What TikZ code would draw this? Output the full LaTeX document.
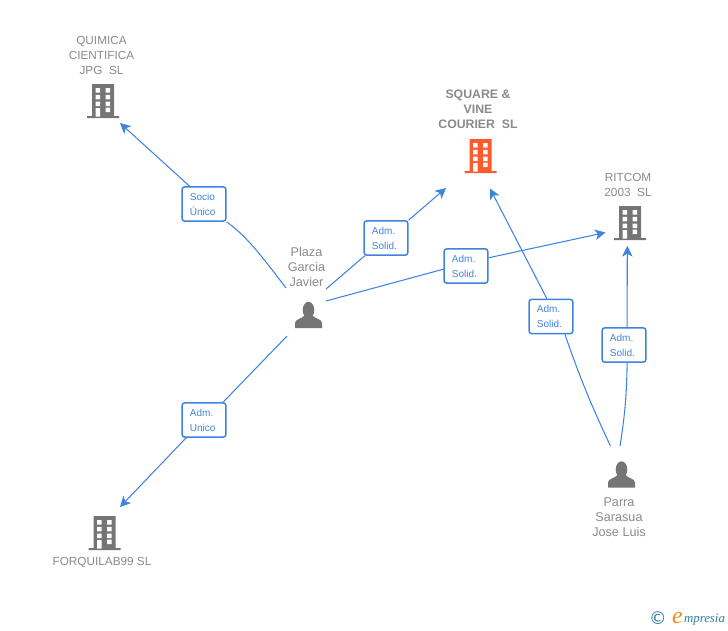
\documentclass[tikz,border=0pt]{standalone}
\usepackage{fontspec}
\setmainfont{Liberation Sans}
\newfontfamily\logofont{Liberation Serif}
\newfontfamily\logosym{DejaVu Sans}
\usetikzlibrary{arrows.meta}
\definecolor{linkblue}{HTML}{3F83E0}
\definecolor{labelgrey}{HTML}{8A8A8A}
\definecolor{icongrey}{HTML}{757575}
\definecolor{iconred}{HTML}{FF5A2B}
\definecolor{logoteal}{HTML}{2F7F9A}
\definecolor{logoorange}{HTML}{F58A1F}
\tikzset{
  link/.style={linkblue,line width=.6pt},
  arrowlink/.style={link,-{Stealth[length=6pt,width=6pt,inset=1.6pt]}},
  rolebox/.style={draw=linkblue,line width=.85pt,rounded corners=1.3pt,fill=white,text=linkblue,
    font=\fontsize{5.7}{8.5}\selectfont,align=left,text width=16pt,inner xsep=4.4pt,
    minimum height=19.4pt,inner ysep=0pt},
  companylabel/.style={text=labelgrey,font=\fontsize{6.7}{8.5}\selectfont,align=center,inner sep=0pt},
  personlabel/.style={companylabel,font=\fontsize{7.2}{8.5}\selectfont},
  building/.pic={
    \fill[pic actions] (-11,-16) rectangle (11,17) (-16,16) rectangle (16,18);
    \foreach \wy in {-12,-5.2,1.5}
    {
      \fill[white] (-7.5,\wy) rectangle (-3,\wy+4.5) (2.5,\wy) rectangle (7,\wy+4.5);
    }
    \fill[white] (-7.5,8) rectangle (-3,16.5) (2.5,7.7) rectangle (7,12.2);
  },
  personicon/.pic={
    \fill[icongrey] (-.5,-5) ellipse [x radius=5.8,y radius=8.2];
    \fill[icongrey] (-14,13) -- (-14,8) .. controls (-14,4) and (-7,4) .. (-4,0)
      -- (3,0) .. controls (6,4) and (13,4) .. (13,8) -- (13,13) -- cycle;
  }
}
\begin{document}
\begin{tikzpicture}[x=.02cm,y=-.02cm,>=latex]
\useasboundingbox (0,0) rectangle (728,630);

% companies
\foreach \x/\y/\col in {103/100/icongrey,480.5/155/iconred,630/222/icongrey,104.5/532/icongrey}
{
    \path (\x,\y) pic[fill=\col] {building};
}
\node (quimica) at (101.5,55.5)[companylabel]{QUIMICA\\CIENTIFICA\\JPG\ \ SL};
\node (square) at (478,109.5)[companylabel,font=\fontsize{7}{8.5}\selectfont\bfseries]{SQUARE \&\\VINE\\COURIER\ \ SL};
\node (ritcom) at (628,184.5)[companylabel]{RITCOM\\2003\ \ SL};
\node (forquilab) at (102,562)[companylabel]{FORQUILAB99 SL};

% people
\path (309,315) pic {personicon};
\path (622,474.5) pic {personicon};
\node (plaza) at (306.5,267)[personlabel]{Plaza\\Garcia\\Javier};
\node (parra) at (619,517)[personlabel]{Parra\\Sarasua\\Jose Luis};

% role boxes
\foreach \boxname/\x/\y/\boxtext in {socio/204/204/Socio\\Único,unico/204/420/Adm.\\Unico,
  solida/386/238/Adm.\\Solid.,solidb/466/266/Adm.\\Solid.,solidc/551/316.5/Adm.\\Solid.,solidd/624/345/Adm.\\Solid.}
{
    \node (\boxname) at (\x,\y)[rolebox]{\boxtext};
}

% free ends
\coordinate (plazaa) at (286,288);
\coordinate (plazab) at (326,289);
\coordinate (plazac) at (326,301);
\coordinate (plazad) at (287,336);
\coordinate (parraa) at (610.5,446);
\coordinate (parrab) at (620,446);
\coordinate (tipquimica) at (120,123);
\coordinate (tipforquilab) at (120,507);
\coordinate (tipsquarea) at (446,188);
\coordinate (tipsquareb) at (490,188.5);
\coordinate (tipritcoma) at (605.5,232.5);
\coordinate (tipritcomb) at (627.3,246);

\draw[link] (plazaa) .. controls (258,251) and (245,235) .. (socio.south east);
\draw[arrowlink] (socio.129) -- (tipquimica);
\draw[link] (plazad) -- (unico.43);
\draw[arrowlink] (unico.225) -- (tipforquilab);
\draw[link] (plazab) -- (solida.220);
\draw[arrowlink] (solida.north east) -- (tipsquarea);
\draw[link] (plazac) -- (solidb.188);
\draw[arrowlink] (solidb.20) -- (tipritcoma);
\draw[link] (parraa) to[bend left=3] (solidc.-52);
\draw[arrowlink] (solidc.103) -- (tipsquareb);
\draw[link] (parrab) to[bend right=4] (solidd.-80);
\draw[arrowlink] (solidd.80) -- (tipritcomb);

% logo
\node (logoc) at (658,618.5)[text=logoteal,inner sep=0pt,font=\logosym\fontsize{10}{10}\selectfont]{©};
\node (logoe) at (677.5,618.5)[text=logoorange,inner sep=0pt,font=\logofont\itshape\fontsize{13.5}{14}\selectfont]{e};
\node (logotext) at (704.5,619.5)[text=logoteal,inner sep=0pt,font=\logofont\itshape\fontsize{7.3}{8}\selectfont]{mpresia};
\end{tikzpicture}
\end{document}
